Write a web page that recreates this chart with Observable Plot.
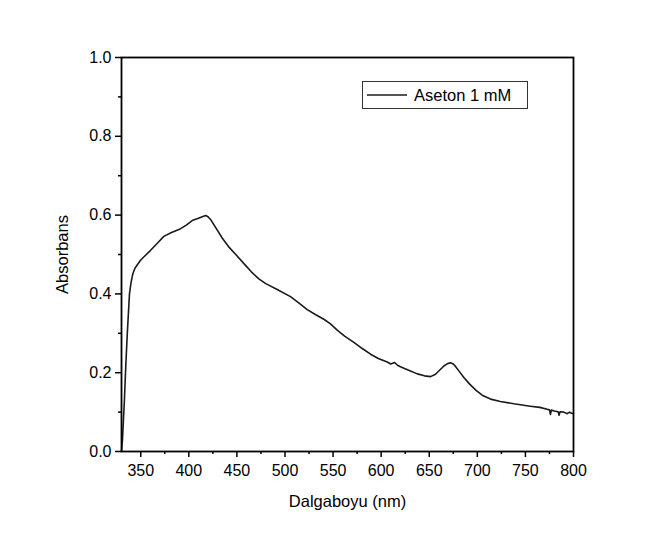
<!DOCTYPE html>
<html>
<head>
<meta charset="utf-8">
<script src="https://cdn.jsdelivr.net/npm/d3@7"></script>
<script src="https://cdn.jsdelivr.net/npm/@observablehq/plot@0.6"></script>
<style>
  body { margin: 0; background: #fff; }
  #wrap { position: relative; width: 656px; height: 537px; }
  #legend { position: absolute; left: 362px; top: 81px; width: 166px; height: 28px;
    border: 1px solid #333; background: #fff; box-sizing: border-box;
    font-family: "Liberation Sans", Arial, sans-serif; font-size: 16.5px; color: #000;
    display: flex; align-items: center; }
  #legend svg { margin-left: 4px; margin-right: 7px; }
</style>
</head>
<body>
<div id="wrap"></div>
<script>
const wavelength = [330, 331, 333, 334.5, 336, 338.3, 340, 341.8, 344, 347, 350, 355, 360, 367, 374, 382, 391, 397, 403.5, 410, 414, 417.4, 420, 422.6, 427, 434.7, 442, 450, 458, 465, 472.8, 480, 491.9, 505.7, 515, 523.1, 532, 540.8, 547.3, 554.3, 562, 571.6, 580, 589, 597, 606.3, 610, 614, 617, 620, 628, 637.6, 645, 651.4, 656.5, 661, 665.2, 669, 672.1, 675, 677.3, 681, 686, 692, 698.7, 705, 713.7, 724, 738, 755, 765, 772.7, 775, 776, 777, 780, 784, 785, 786, 790, 793.5, 796, 798, 800];
const absorbance = [0.0, 0.03, 0.129, 0.22, 0.298, 0.40, 0.43, 0.451, 0.465, 0.476, 0.486, 0.498, 0.51, 0.528, 0.546, 0.556, 0.565, 0.574, 0.586, 0.592, 0.596, 0.599, 0.596, 0.589, 0.572, 0.542, 0.518, 0.497, 0.475, 0.456, 0.438, 0.426, 0.411, 0.393, 0.376, 0.36, 0.347, 0.335, 0.324, 0.308, 0.293, 0.277, 0.262, 0.247, 0.236, 0.227, 0.222, 0.226, 0.219, 0.215, 0.207, 0.197, 0.192, 0.19, 0.196, 0.207, 0.217, 0.223, 0.225, 0.222, 0.216, 0.204, 0.188, 0.171, 0.155, 0.143, 0.133, 0.127, 0.121, 0.115, 0.112, 0.107, 0.106, 0.094, 0.105, 0.103, 0.101, 0.092, 0.101, 0.1, 0.096, 0.1, 0.097, 0.096];
const xMajor = [350, 400, 450, 500, 550, 600, 650, 700, 750, 800];
const xMinor = [375, 425, 475, 525, 575, 625, 675, 725, 775];
const yMajor = [0.0, 0.2, 0.4, 0.6, 0.8, 1.0];
const yMinor = [0.1, 0.3, 0.5, 0.7, 0.9];
const seriesName = "Aseton 1 mM";
const xLabel = "Dalgaboyu (nm)";
const yLabel = "Absorbans";

const data = wavelength.map((w, i) => ({w, a: absorbance[i]}));

const chart = Plot.plot({
  width: 656,
  height: 537,
  marginLeft: 121,
  marginRight: 83,
  marginTop: 57,
  marginBottom: 86,
  style: {fontFamily: "'Liberation Sans', Arial, sans-serif", fontSize: "16px", color: "#000", background: "#fff"},
  x: {domain: [330, 800]},
  y: {domain: [0, 1]},
  marks: [
    Plot.axisX({ticks: xMinor, tickSize: 3, text: null, label: null, strokeWidth: 1.5}),
    Plot.axisX({ticks: xMajor, tickSize: 6, tickPadding: 7, strokeWidth: 1.5, fontSize: 16, label: null}),
    Plot.axisX({ticks: [], fontSize: 16.5, label: xLabel, labelAnchor: "center", labelArrow: "none", labelOffset: 55}),
    Plot.axisY({ticks: yMinor, tickSize: 3, text: null, label: null, strokeWidth: 1.5}),
    Plot.axisY({ticks: yMajor, tickSize: 6, tickPadding: 4, strokeWidth: 1.5, fontSize: 16,
      tickFormat: d3.format(".1f"), label: null}),
    Plot.axisY({ticks: [], fontSize: 16.5, label: yLabel, labelAnchor: "center", labelArrow: "none", labelOffset: 65}),
    Plot.line(data, {x: "w", y: "a", stroke: "#1a1a1a", strokeWidth: 1.6}),
    Plot.frame({stroke: "#000", strokeWidth: 1.8})
  ]
});
const wrap = document.getElementById("wrap");
wrap.appendChild(chart);
const leg = document.createElement("div");
leg.id = "legend";
leg.innerHTML = `<svg width="40" height="10"><line x1="0" x2="40" y1="5" y2="5" stroke="#1a1a1a" stroke-width="1.6"/></svg><span>${seriesName}</span>`;
wrap.appendChild(leg);
</script>
</body>
</html>
